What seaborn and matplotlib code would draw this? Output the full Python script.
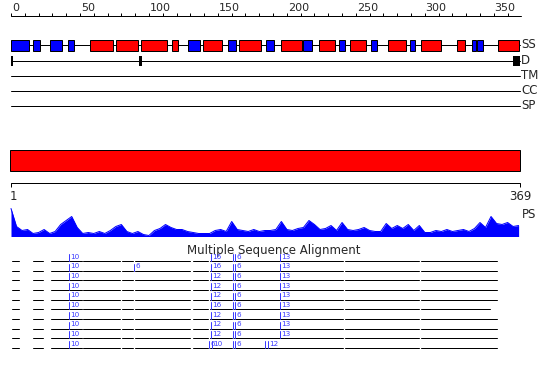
import matplotlib
matplotlib.use('Agg')
import matplotlib.pyplot as plt
from matplotlib.patches import Rectangle
import seaborn as sns
import pandas as pd

# ---- data ----
seq_len = 369
ruler_ticks = list(range(0, 351, 50))

# secondary structure (residue start, end)
strands = [(1, 13), (17, 21), (29, 37), (42, 46), (129, 137), (158, 163),
           (186, 191), (213, 218), (239, 242), (262, 265), (290, 293),
           (335, 337), (339, 342)]
helices = [(58, 74), (77, 92), (95, 113), (118, 121), (140, 153), (166, 181),
           (197, 211), (224, 235), (247, 257), (274, 286), (298, 312),
           (324, 329), (354, 368)]
domain_marks = [(0, 1.5), (93, 95), (364, 369)]
track_names = ['SS', 'D', 'TM', 'CC', 'SP']

# profile (every 4th residue)
ps_res = list(range(0, 369, 4))
ps_val = [28, 10, 6, 7, 3, 4, 7, 3, 5, 12, 16, 20, 9, 3, 4, 3, 5, 3, 6, 10,
          12, 5, 3, 5, 2, 1, 6, 8, 12, 9, 7, 7,
          5, 4, 3, 3, 3, 6, 7, 5, 15, 7, 6, 5, 7, 5, 6, 6, 7, 15, 7, 6, 8, 9,
          16, 12, 7, 8, 11, 6, 14, 7, 6, 7, 9, 6, 5, 5, 13, 8, 11, 8, 12, 6,
          11, 4, 4, 6, 5, 7, 5, 6, 7, 5, 8, 14, 9, 20, 13, 12, 14, 10, 11]

# alignment rows
msa_segments = [(0.5, 5.8), (16, 23.2), (29, 51.4), (52.5, 79), (80.4, 88.8),
                (89.9, 129.7), (131.9, 143.1), (144.6, 160.1), (161.6, 240.6),
                (242, 295.7), (297.1, 352.2)]
msa_row_end = [352.2, 352.2, 352.2, 352.2, 352.2, 347, 352.2, 352.2, 352.2, 352.2]
msa_inserts = [
    [(42, '10'), (144.7, '16'), (161, ''), (162.5, '6'), (195, '13')],
    [(42, '10'), (89.4, '6'), (144.7, '16'), (161, ''), (162.5, '6'), (195, '13')],
    [(42, '10'), (144.7, '12'), (161, ''), (162.5, '6'), (195, '13')],
    [(42, '10'), (144.7, '12'), (161, ''), (162.5, '6'), (195, '13')],
    [(42, '10'), (144.7, '12'), (161, ''), (162.5, '6'), (195, '13')],
    [(42, '10'), (144.7, '16'), (161, ''), (162.5, '6'), (195, '13')],
    [(42, '10'), (144.7, '12'), (161, ''), (162.5, '6'), (195, '13')],
    [(42, '10'), (144.7, '12'), (161, ''), (162.5, '6'), (195, '13')],
    [(42, '10'), (144.7, '12'), (161, ''), (162.5, '6'), (195, '13')],
    [(42, '10'), (143.5, '6'), (145.5, '10'), (161, ''), (162.5, '6'),
     (184.5, ''), (186.5, '12')],
]

# ---- layout (pixel rows, y grows downward) ----
PX = 1.3794           # pixels per residue
X0 = 11               # pixel of residue 0
LW = 0.72             # one pixel
BLUE = '#0000ff'
INS = '#3c3cff'

sns.set_theme(style='white')
plt.rcParams['font.family'] = ['DejaVu Sans']

fig = plt.figure(figsize=(5.5, 3.8), dpi=100)
ax = fig.add_axes([0, 0, 1, 1])
ax.set_xlim(-X0 / PX, (550 - X0) / PX)
ax.set_ylim(380, 0)
ax.axis('off')

# top ruler
ax.plot([0, seq_len + 1], [15.5, 15.5], color='black', lw=LW)
ax.vlines(list(range(0, seq_len, 10)), 12.5, 15.5, color='black', lw=LW)
for t in ruler_ticks:
    ax.text(t + 0.6, 11, str(t), ha='left', va='baseline', fontsize=8)

# feature tracks
track_y = [45, 60.5, 75.5, 90.5, 105.5]
for name, y in zip(track_names, track_y):
    ax.plot([0, seq_len], [y, y], color='black', lw=LW, zorder=1)
    ax.text(seq_len + 0.8, y, name, ha='left', va='center', fontsize=8.5)

for s, e in strands:
    ax.add_patch(Rectangle((s - 1, 40), e - s + 1, 11, facecolor=BLUE,
                           edgecolor='black', lw=LW, zorder=2))
for s, e in helices:
    ax.add_patch(Rectangle((s - 1, 40), e - s + 1, 11, facecolor='#ff0000',
                           edgecolor='black', lw=LW, zorder=2))
for s, e in domain_marks:
    ax.add_patch(Rectangle((s, 56), e - s, 9.5, facecolor='black',
                           edgecolor='none', zorder=2))

# full-length bar
ax.add_patch(Rectangle((-0.5, 150), seq_len + 0.5, 20.5, facecolor='#ff0000',
                       edgecolor='black', lw=LW))

# lower ruler
ax.plot([0, seq_len], [182.5, 182.5], color='black', lw=LW)
ax.vlines([0, seq_len], 182.5, 187, color='black', lw=LW)
ax.text(-0.7, 190, '1', ha='left', va='top', fontsize=8.5)
ax.text(seq_len, 190, str(seq_len), ha='center', va='top', fontsize=8.5)
ax.text(seq_len + 1.3, 214, 'PS', ha='left', va='center', fontsize=8.5)

# profile
base = 236.5
df_ps = pd.DataFrame({'res': ps_res, 'top': [base - v for v in ps_val]})
ax.fill_between(df_ps['res'], base, df_ps['top'], color=BLUE, lw=0)
sns.lineplot(data=df_ps, x='res', y='top', color=BLUE, lw=LW, ax=ax)
ax.set_xlabel('')
ax.set_ylabel('')

# alignment
ax.text((274 - X0) / PX, 250.5, 'Multiple Sequence Alignment',
        ha='center', va='center', fontsize=8.5)
for i, (inserts, end) in enumerate(zip(msa_inserts, msa_row_end)):
    y = 261 + i * 9.67
    for s, e in msa_segments:
        ax.plot([s, min(e, end)], [y, y], color='black', lw=LW)
    for pos, lab in inserts:
        ax.plot([pos, pos], [y - 7, y], color=INS, lw=LW)
        if lab:
            ax.text(pos + 0.9, y - 1.2, lab, ha='left', va='bottom',
                    fontsize=5.2, color=INS)

fig.savefig('out.png', dpi=100)
